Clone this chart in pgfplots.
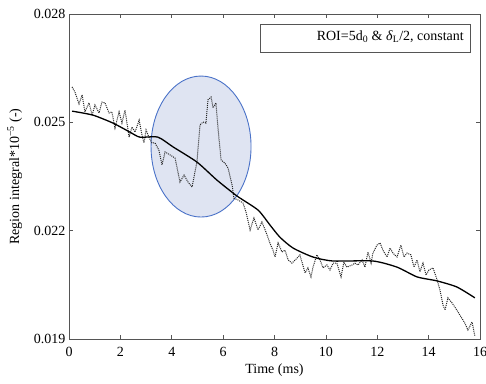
\documentclass[border=0pt]{standalone}
\usepackage{fontspec}
\setmainfont{Liberation Serif}
\usepackage{pgfplots}
\pgfplotsset{compat=1.18}
\definecolor{ellfill}{HTML}{DFE4F2}
\definecolor{elldraw}{HTML}{4A72C8}
\definecolor{axgray}{HTML}{555555}
\begin{document}
\begin{tikzpicture}
\useasboundingbox (0,0) rectangle (486pt,383pt);
\begin{axis}[
  at={(69pt,44pt)}, anchor=south west,
  scale only axis, width=411pt, height=325pt,
  xmin=0, xmax=16, ymin=0.019, ymax=0.028,
  scaled y ticks=false, scaled x ticks=false,
  xtick={0,2,4,6,8,10,12,14,16},
  xticklabels={0,2,4,6,8,10,12,14,16},
  ytick={0.019,0.022,0.025,0.028},
  yticklabels={0.019,0.022,0.025,0.028},
  /pgf/number format/assume math mode=true,
  font=\fontsize{14}{16}\selectfont,
  tick align=inside, tick pos=both,
  major tick length=4pt,
  axis line style={axgray, line width=0.6pt},
  every tick/.style={axgray, line width=0.6pt},
  xticklabel style={yshift=-5pt},
  xlabel={Time (ms)},
  ylabel={Region integral*10\textsuperscript{−5} (-)},
  ylabel style={yshift=5pt},
  clip=false,
]
\fill[ellfill] (axis cs:5.14,0.02433) ellipse [x radius=50pt, y radius=70.5pt];
\draw[elldraw, line width=0.9pt] (axis cs:5.14,0.02433) ellipse [x radius=50pt, y radius=70.5pt];

\addplot[black!85, line width=1pt, densely dotted] coordinates {
(0.12,0.02598) (0.23,0.02584) (0.39,0.02551) (0.51,0.02576) (0.62,0.02529)
(0.78,0.02554) (0.90,0.02520) (1.01,0.02548) (1.17,0.02526) (1.28,0.02556)
(1.40,0.02554) (1.56,0.02526) (1.67,0.02529) (1.79,0.02484) (1.95,0.02529)
(2.06,0.02498) (2.18,0.02534) (2.34,0.02459) (2.45,0.02487) (2.57,0.02473)
(2.73,0.02506) (2.84,0.02465) (2.92,0.02443) (3.00,0.02479) (3.11,0.02459)
(3.23,0.02443) (3.35,0.02443) (3.50,0.02423) (3.62,0.02382) (3.74,0.02418)
(3.93,0.02410) (4.13,0.02401) (4.32,0.02335) (4.48,0.02354) (4.63,0.02335)
(4.79,0.02321) (4.98,0.02390) (5.10,0.02493) (5.22,0.02501) (5.33,0.02498)
(5.41,0.02562) (5.53,0.02570) (5.61,0.02540) (5.72,0.02554) (5.80,0.02484)
(5.92,0.02396) (6.07,0.02387) (6.19,0.02374) (6.35,0.02326) (6.42,0.02290)
(6.58,0.02285) (6.77,0.02277) (6.89,0.02252) (7.05,0.02202) (7.20,0.02235)
(7.36,0.02202) (7.51,0.02224) (7.67,0.02196) (7.82,0.02166) (7.94,0.02146)
(8.02,0.02127) (8.14,0.02166) (8.29,0.02141) (8.41,0.02146) (8.53,0.02119)
(8.68,0.02110) (8.88,0.02124) (8.99,0.02133) (9.19,0.02083) (9.30,0.02097)
(9.42,0.02072) (9.50,0.02099) (9.65,0.02133) (9.77,0.02119) (9.89,0.02097)
(10.04,0.02105) (10.16,0.02091) (10.28,0.02110) (10.43,0.02110) (10.59,0.02072)
(10.70,0.02113) (10.82,0.02099) (11.02,0.02105) (11.13,0.02110) (11.25,0.02105)
(11.41,0.02119) (11.52,0.02099) (11.64,0.02141) (11.76,0.02110) (11.83,0.02138)
(11.99,0.02160) (12.11,0.02166) (12.22,0.02146) (12.38,0.02127) (12.50,0.02152)
(12.61,0.02138) (12.77,0.02127) (12.92,0.02160) (13.04,0.02127) (13.16,0.02138)
(13.31,0.02133) (13.43,0.02099) (13.55,0.02119) (13.66,0.02086) (13.78,0.02110)
(13.90,0.02077) (14.01,0.02091) (14.17,0.02097) (14.32,0.02066) (14.44,0.02036)
(14.56,0.01994) (14.64,0.01980) (14.75,0.02014) (14.91,0.02000) (15.10,0.01980)
(15.22,0.01966) (15.41,0.01944) (15.53,0.01925) (15.69,0.01947) (15.80,0.01908)
};

\addplot[black, line width=1.3pt, smooth, tension=0.4] coordinates {
(0.12,0.02531) (0.93,0.02520) (1.71,0.02498) (2.37,0.02473) (2.76,0.02459)
(3.46,0.02459) (4.05,0.02432) (4.98,0.02390) (5.76,0.02340) (6.54,0.02296)
(7.36,0.02257) (7.82,0.02216) (8.21,0.02182) (8.72,0.02152) (9.50,0.02127)
(10.28,0.02116) (11.83,0.02116) (12.77,0.02099) (13.55,0.02072) (14.32,0.02061)
(15.10,0.02044) (15.80,0.02014)
};

\draw[axgray, line width=0.6pt, fill=white] ([shift={(-10pt,-10pt)}]rel axis cs:1,1) rectangle ([shift={(-220pt,-38pt)}]rel axis cs:1,1);
\node[anchor=east, inner sep=0pt] at ([shift={(-16pt,-23pt)}]rel axis cs:1,1) {ROI=5d\textsubscript{0} \& \textit{δ}\textsubscript{L}/2, constant};
\end{axis}
\end{tikzpicture}
\end{document}
